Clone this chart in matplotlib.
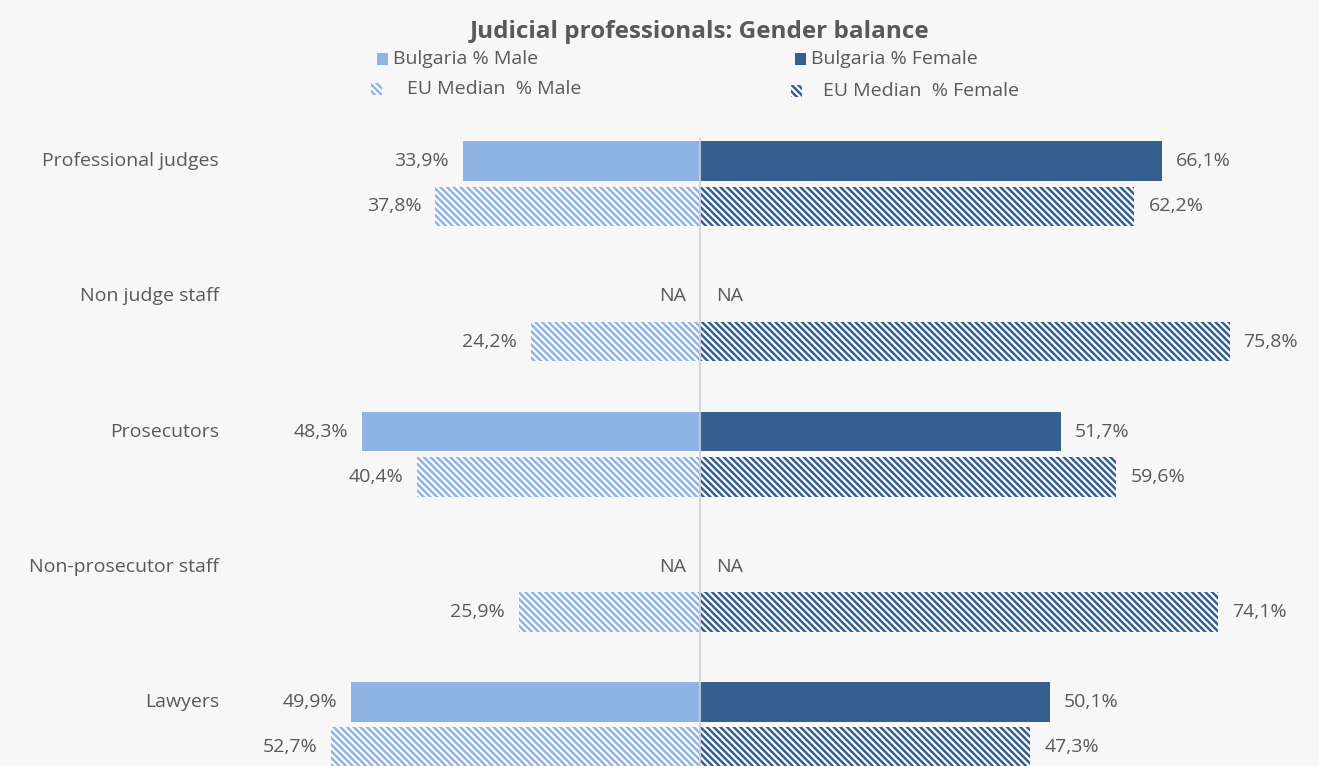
"""Judicial professionals: gender balance, Bulgaria vs EU median (butterfly bar chart)."""

import matplotlib

matplotlib.use('Agg')
import matplotlib.pyplot as plt
from matplotlib.patches import Rectangle

CATEGORIES = [
    'Professional judges',
    'Non judge staff',
    'Prosecutors',
    'Non-prosecutor staff',
    'Lawyers',
]
BG_MALE = [33.9, None, 48.3, None, 49.9]
BG_FEMALE = [66.1, None, 51.7, None, 50.1]
EU_MALE = [37.8, 24.2, 40.4, 25.9, 52.7]
EU_FEMALE = [62.2, 75.8, 59.6, 74.1, 47.3]

LIGHT = '#8FB4E3'
DARK = '#355F91'
TEXT = '#595959'
BG = '#F7F7F7'

plt.rcParams['font.family'] = ['Open Sans', 'DejaVu Sans']
plt.rcParams['hatch.linewidth'] = 1.8


def fmt(v: float) -> str:
    return f'{v:.1f}%'.replace('.', ',')


fig = plt.figure(figsize=(13.19, 7.66), dpi=100, facecolor=BG)
ax = fig.add_axes([0, 0, 1, 1], facecolor=BG)

# x in percent, 1% ~ 7 px; y in units of 45 px (one bar slot)
ax.set_xlim(-100.1, 88.6)
ax.set_ylim(13.42, -3.58)
ax.axis('off')

H = 0.88
OFF = 2.0
FS = 14
HATCH = '\\\\\\\\\\'

for i, cat in enumerate(CATEGORIES):
    y1 = 3 * i
    y2 = 3 * i + 1
    ax.text(-68.8, y1, cat, ha='right', va='center', fontsize=FS, color=TEXT)

    if BG_MALE[i] is None:
        ax.text(-2.0, y1, 'NA', ha='right', va='center', fontsize=FS, color=TEXT)
        ax.text(2.4, y1, 'NA', ha='left', va='center', fontsize=FS, color=TEXT)
    else:
        ax.barh(y1, -BG_MALE[i], height=H, color=LIGHT, linewidth=0)
        ax.barh(y1, BG_FEMALE[i], height=H, color=DARK, linewidth=0)
        ax.text(-BG_MALE[i] - OFF, y1, fmt(BG_MALE[i]), ha='right',
                va='center', fontsize=FS, color=TEXT)
        ax.text(BG_FEMALE[i] + OFF, y1, fmt(BG_FEMALE[i]), ha='left',
                va='center', fontsize=FS, color=TEXT)

    ax.barh(y2, -EU_MALE[i], height=H, facecolor='white', edgecolor=LIGHT,
            hatch=HATCH, linewidth=0)
    ax.barh(y2, EU_FEMALE[i], height=H, facecolor='white', edgecolor=DARK,
            hatch=HATCH, linewidth=0)
    ax.text(-EU_MALE[i] - OFF, y2, fmt(EU_MALE[i]), ha='right',
            va='center', fontsize=FS, color=TEXT)
    ax.text(EU_FEMALE[i] + OFF, y2, fmt(EU_FEMALE[i]), ha='left',
            va='center', fontsize=FS, color=TEXT)

ax.axvline(0, ymin=0, ymax=0.82, color='#D0D0D0', linewidth=1.2)

# title and hand-placed legend
W, Hf = 1319, 766
fig.text(700 / W, 1 - 32 / Hf, 'Judicial professionals: Gender balance',
         ha='center', va='center', fontsize=17.5, fontweight='bold', color=TEXT)


def legend_item(x_box, x_text, y, label, color, hatched):
    size = 11
    rect = Rectangle((x_box / W, 1 - (y + size / 2) / Hf), size / W, size / Hf,
                     transform=fig.transFigure,
                     facecolor='white' if hatched else color,
                     edgecolor=color, hatch=HATCH if hatched else None,
                     linewidth=0)
    fig.patches.append(rect)
    fig.text(x_text / W, 1 - y / Hf, label, ha='left', va='center',
             fontsize=FS, color=TEXT)


legend_item(377, 393, 59, 'Bulgaria % Male', LIGHT, False)
legend_item(795, 811, 59, 'Bulgaria % Female', DARK, False)
legend_item(371, 407, 89, 'EU Median  % Male', LIGHT, True)
legend_item(791, 823, 91, 'EU Median  % Female', DARK, True)

fig.savefig('out.png', dpi=100, facecolor=BG)
